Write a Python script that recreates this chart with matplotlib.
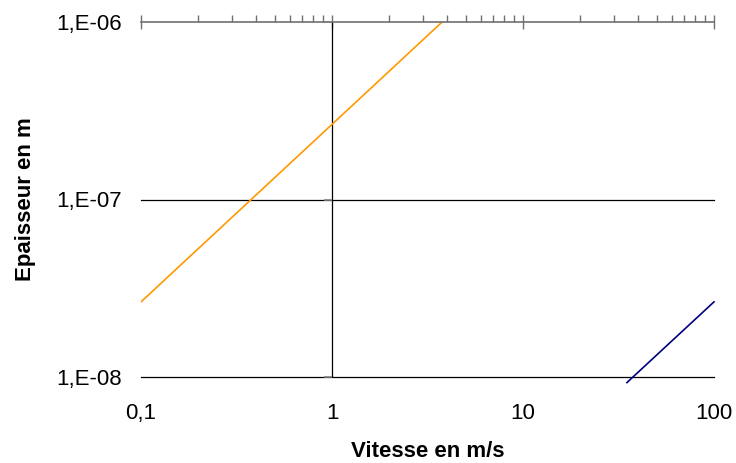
import matplotlib
matplotlib.use("Agg")
import matplotlib.pyplot as plt
from matplotlib.ticker import LogLocator, NullFormatter, FixedLocator

plt.rcParams["font.family"] = ["Liberation Sans", "DejaVu Sans"]

# orange series (low speed) and navy series (high speed), thickness vs speed
vitesse_orange = [0.1, 1.0, 3.77]
epaisseur_orange = [2.65e-8, 2.65e-7, 1.0e-6]
vitesse_navy = [35.0, 100.0]
epaisseur_navy = [9.3e-9, 2.65e-8]

x_ticks = [0.1, 1, 10, 100]
x_labels = ["0,1", "1", "10", "100"]
y_ticks = [1e-8, 1e-7, 1e-6]
y_labels = ["1,E-08", "1,E-07", "1,E-06"]

fig = plt.figure(figsize=(7.36, 4.63), dpi=100)
ax = fig.add_axes([141 / 736, 1 - 377 / 463, (714 - 141) / 736, (377 - 22) / 463])
ax.set_xscale("log")
ax.set_yscale("log")
ax.set_xlim(0.1, 100)
ax.set_ylim(1e-8, 1e-6)

ax.plot(vitesse_orange, epaisseur_orange, color="#FF9900", lw=1.2, zorder=3)
ax.plot(vitesse_navy, epaisseur_navy, color="#000080", lw=1.2, zorder=3, clip_on=False)

# horizontal gridlines, vertical axis crossing at x=1
for yv in y_ticks[:-1]:
    ax.axhline(yv, color="black", lw=0.9, zorder=1, clip_on=False)
ax.axvline(1, color="black", lw=0.9, zorder=2)

for s in ["left", "right", "bottom"]:
    ax.spines[s].set_visible(False)
ax.spines["top"].set_color("#707070")
ax.spines["top"].set_linewidth(1.2)
ax.spines["top"].set_zorder(4)

ax.xaxis.set_major_locator(FixedLocator(x_ticks))
ax.xaxis.set_minor_locator(LogLocator(base=10, subs=range(2, 10)))
ax.xaxis.set_minor_formatter(NullFormatter())
ax.set_xticklabels(x_labels)
ax.tick_params(axis="x", which="both", bottom=False, top=True,
               labelbottom=True, labeltop=False, color="#707070")
ax.tick_params(axis="x", which="major", direction="inout", length=10, width=1.0,
               pad=14, labelsize=16)
ax.tick_params(axis="x", which="minor", direction="out", length=5, width=1.0)

ax.yaxis.set_major_locator(FixedLocator(y_ticks))
ax.yaxis.set_minor_locator(FixedLocator([]))
ax.set_yticklabels(y_labels)
ax.tick_params(axis="y", which="major", length=0, pad=14, labelsize=16)

# small ticks on the vertical axis at x=1
sec = ax.secondary_yaxis(1 / 3)
sec.set_zorder(5)
sec.spines["left"].set_visible(False)
sec.yaxis.set_major_locator(FixedLocator(y_ticks))
sec.yaxis.set_minor_locator(FixedLocator([]))
sec.tick_params(axis="y", length=6, width=1.2, color="#808080", labelleft=False)

ax.set_xlabel("Vitesse en m/s", fontsize=16, fontweight="bold", labelpad=12)
ax.set_ylabel("Epaisseur en m", fontsize=16, fontweight="bold", labelpad=14)

fig.savefig("out.png", dpi=100)
